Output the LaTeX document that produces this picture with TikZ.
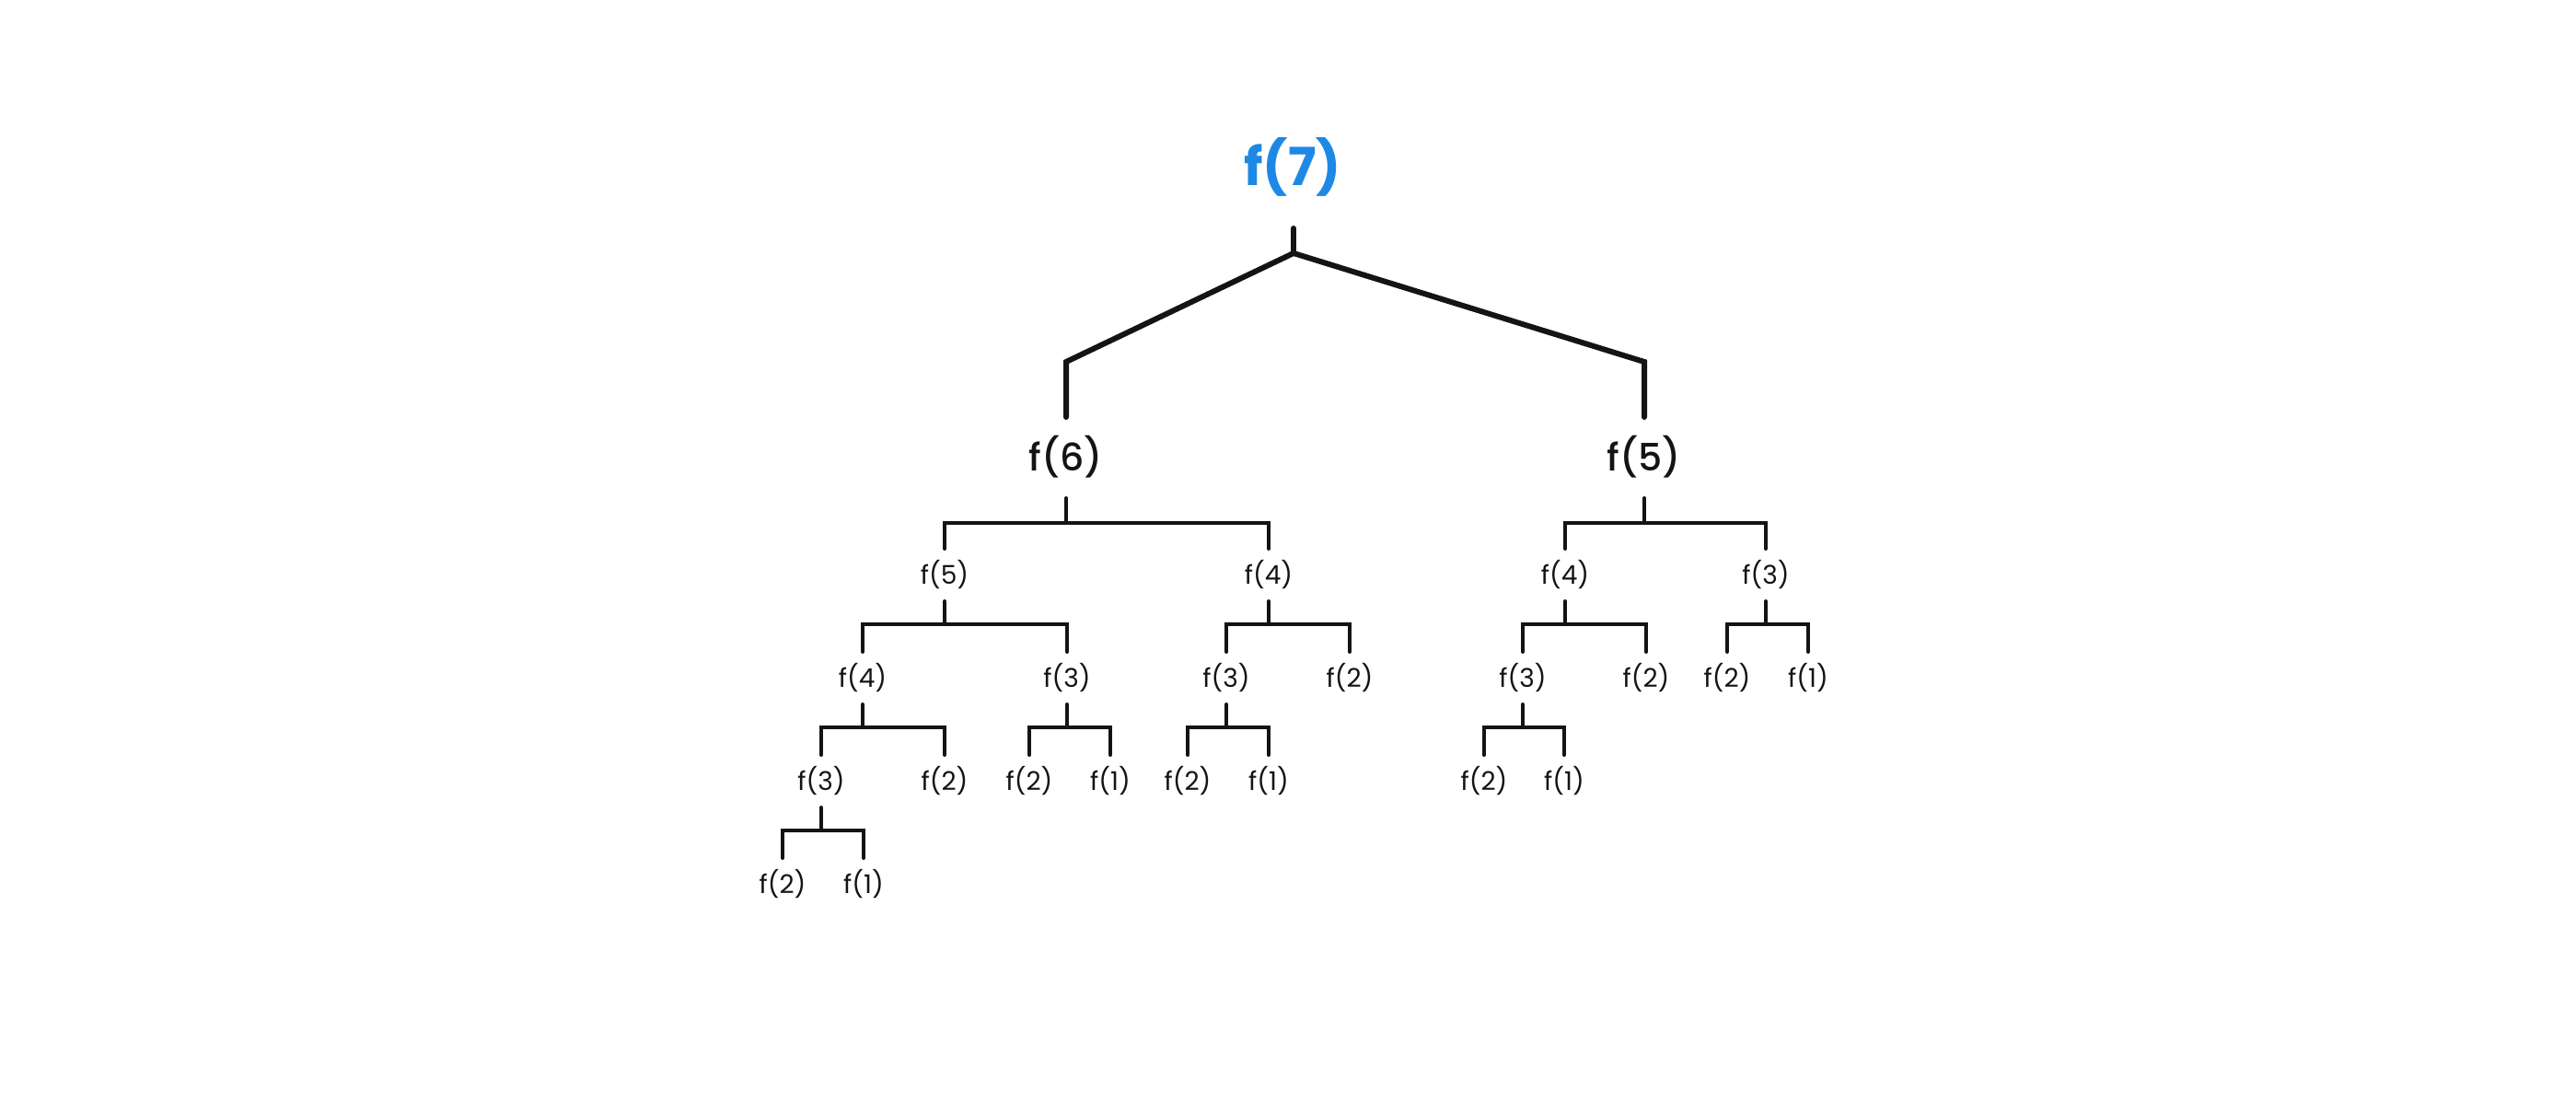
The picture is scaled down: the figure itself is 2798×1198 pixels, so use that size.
\documentclass[tikz,border=0pt]{standalone}
\usepackage{fontspec}
\setmainfont{Poppins}
\newfontfamily\medfont{Poppins Medium}
\usetikzlibrary{calc}
\definecolor{ink}{HTML}{141414}
\definecolor{rootblue}{HTML}{1E88E5}

% parent, left child, right child, stem top offset, bar offset (below parent baseline)
\newcommand\branch[5]{%
  \draw[link] ($(#1.base)+(0,#4)$) -- ($(#1.base)+(0,#5)$);
  \draw[link] ($(#2.base)+(0,-38)$) -- ($(#2.base |- #1.base)+(0,#5)$)
    -- ($(#3.base |- #1.base)+(0,#5)$) -- ($(#3.base)+(0,-38)$);
}

\begin{document}
\begin{tikzpicture}[x=1pt,y=-1pt,
  leaf/.style={anchor=base,inner sep=0pt,font=\fontsize{28}{28}\selectfont,text=ink},
  midlabel/.style={anchor=base,inner sep=0pt,font=\medfont\fontsize{41}{41}\selectfont,text=ink},
  rootlabel/.style={anchor=base,inner sep=0pt,font=\bfseries\fontsize{57}{57}\selectfont,text=rootblue},
  link/.style={draw=ink,line width=4pt,line cap=round,line join=miter},
  trunk/.style={draw=ink,line width=6pt,line cap=round,line join=miter}]

\useasboundingbox (0,0) rectangle (2798,1198);

% level 0
\node[rootlabel] (r) at (1404,202) {f(7)};
% level 1
\node[midlabel] (a) at (1158,511) {f(6)};
\node[midlabel] (b) at (1786,511) {f(5)};
% level 2
\node[leaf] (aa) at (1026,634) {f(5)};
\node[leaf] (ab) at (1378,634) {f(4)};
\node[leaf] (ba) at (1700,634) {f(4)};
\node[leaf] (bb) at (1918,634) {f(3)};
% level 3
\node[leaf] (aaa) at (937,746) {f(4)};
\node[leaf] (aab) at (1159,746) {f(3)};
\node[leaf] (aba) at (1332,746) {f(3)};
\node[leaf] (abb) at (1466,746) {f(2)};
\node[leaf] (baa) at (1654,746) {f(3)};
\node[leaf] (bab) at (1788,746) {f(2)};
\node[leaf] (bba) at (1876,746) {f(2)};
\node[leaf] (bbb) at (1964,746) {f(1)};
% level 4
\node[leaf] (aaaa) at (892,858) {f(3)};
\node[leaf] (aaab) at (1026,858) {f(2)};
\node[leaf] (aaba) at (1118,858) {f(2)};
\node[leaf] (aabb) at (1206,858) {f(1)};
\node[leaf] (abaa) at (1290,858) {f(2)};
\node[leaf] (abab) at (1378,858) {f(1)};
\node[leaf] (baaa) at (1612,858) {f(2)};
\node[leaf] (baab) at (1699,858) {f(1)};
% level 5
\node[leaf] (aaaaa) at (850,970) {f(2)};
\node[leaf] (aaaab) at (938,970) {f(1)};

% root split
\draw[trunk] ($(r.base)+(1,46)$) -- ($(r.base)+(1,73)$);
\draw[trunk] ($(a.base)+(0,-58)$) -- ($(a.base)+(0,-118)$) -- ($(r.base)+(1,73)$)
  -- ($(b.base)+(0,-118)$) -- ($(b.base)+(0,-58)$);

% lower splits
\branch{a}{aa}{ab}{30}{57}
\branch{b}{ba}{bb}{30}{57}
\branch{aa}{aaa}{aab}{19}{44}
\branch{ab}{aba}{abb}{19}{44}
\branch{ba}{baa}{bab}{19}{44}
\branch{bb}{bba}{bbb}{19}{44}
\branch{aaa}{aaaa}{aaab}{19}{44}
\branch{aab}{aaba}{aabb}{19}{44}
\branch{aba}{abaa}{abab}{19}{44}
\branch{baa}{baaa}{baab}{19}{44}
\branch{aaaa}{aaaaa}{aaaab}{19}{44}
\end{tikzpicture}
\end{document}
